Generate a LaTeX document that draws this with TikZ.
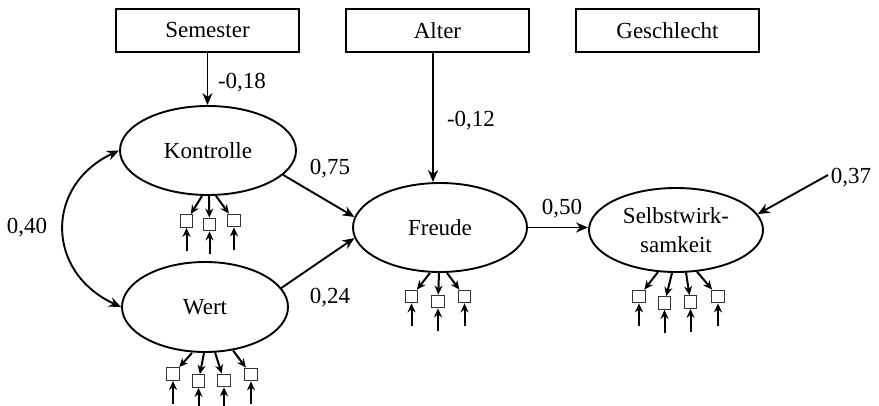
\documentclass[tikz,border=0pt]{standalone}
\usepackage{fontspec}
\setmainfont{Liberation Serif}
\usetikzlibrary{arrows.meta,calc,shapes.geometric}
\begin{document}
\begin{tikzpicture}[x=1pt,y=-1pt,
  txt/.style={font=\fontsize{23}{29}\selectfont},
  lat/.style={txt,draw,ellipse,line width=1.9pt,inner sep=0pt,align=center},
  obsbox/.style={txt,draw,rectangle,line width=1.9pt,minimum width=183pt,minimum height=43pt,inner sep=0pt},
  ind/.style={draw=black!80,line width=1.3pt,minimum size=12.5pt,inner sep=0pt},
  pth/.style={line width=1.9pt,-{Stealth[length=12pt,width=10pt]}},
  sml/.style={line width=2pt,-{Stealth[length=9pt,width=8pt]}},
  lbl/.style={txt,inner sep=0pt}
]
\useasboundingbox (0,0) rectangle (879,406);

% observed covariates
\node[obsbox] (sem) at (207.5,30.5) {Semester};
\node[obsbox] (alt) at (437.5,30.5) {Alter};
\node[obsbox] (ges) at (667.5,30.5) {Geschlecht};

% latent variables
\node[lat,minimum width=176pt,minimum height=89pt] (kon) at (208,150.5) {Kontrolle};
\node[lat,minimum width=166pt,minimum height=90pt] (wert) at (205,307) {Wert};
\node[lat,minimum width=174pt,minimum height=89pt] (fre) at (440,227.5) {Freude};
\node[lat,minimum width=174pt,minimum height=84pt] (selb) at (676,230) {Selbstwirk-\\samkeit};

% paths
\draw[pth] (sem.south) -- (sem.south |- kon.north);
\draw[pth] ([xshift=-4.5pt]alt.south) -- ([xshift=-4.5pt]alt.south |- fre.north);
\draw[pth] (kon.-18) -- (fre.173);
\draw[pth] (wert.14) -- (fre.187);
\draw[pth] (fre.east) -- (fre.east -| selb.west);
\coordinate (res) at (828,175);
\draw[pth] (res) -- (selb.11);
\draw[line width=1.9pt,{Stealth[length=12pt,width=10pt]}-{Stealth[length=12pt,width=10pt]}]
  (kon.west) .. controls (45,185) and (45,272) .. (wert.west);

% labels
\node[lbl] (l18) at (242,83) {-0,18};
\node[lbl] (l12) at (471,121) {-0,12};
\node[lbl] (l75) at (330,169) {0,75};
\node[lbl] (l24) at (330,298) {0,24};
\node[lbl] (l50) at (562,209) {0,50};
\node[lbl] (l37) at (851,178) {0,37};
\node[lbl] (l40) at (27,228) {0,40};

% indicators
\foreach \n/\p/\dx/\dy/\x/\y in {
  k1/kon/-6/0/186.5/221, k2/kon/1/0/209.5/224.5, k3/kon/8/0/234/220.5,
  w1/wert/-13/0/173/374, w2/wert/-1/0/198.5/381, w3/wert/10/0.5/224/380.5, w4/wert/28/2.5/251/374.5,
  f1/fre/-10/0/411.5/296.5, f2/fre/-1/0/438/301.5, f3/fre/7/0/464.5/296.5,
  s1/selb/-18/1/639/296.5, s2/selb/-4/0/664.5/303, s3/selb/10/0.5/690.5/302, s4/selb/21/1.2/718/296.5}{
  \node[ind] (\n) at (\x,\y) {};
  \coordinate (\n-in) at ($(\n.south)+(0,23)$);
  \draw[sml] ([xshift=\dx pt,yshift=\dy pt]\p.south) -- (\n);
  \draw[sml] (\n-in) -- (\n.south);
}
\end{tikzpicture}
\end{document}
